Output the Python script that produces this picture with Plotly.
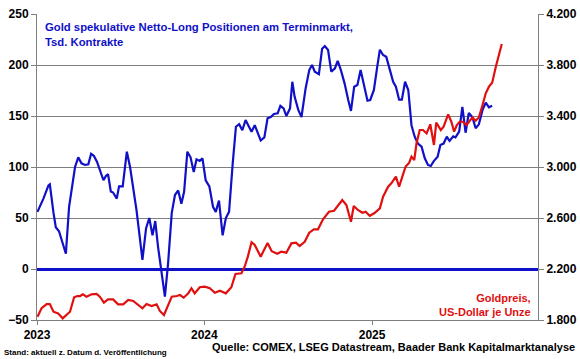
import pandas as pd
import plotly.graph_objects as go

# Days since 2023-01-01 and values
blue_days = [1, 14, 25, 28, 36, 41, 48, 56, 63, 70, 78, 83, 90, 97, 105, 112, 118, 124, 131, 137,
             145, 150, 155, 161, 166, 174, 179, 187, 196, 203, 210, 217, 225, 230, 238, 245, 252, 258,
             264, 272, 279, 286, 294, 301, 308, 315, 321, 328, 335, 342, 348, 355, 361, 368, 376, 384,
             390, 397, 405, 412, 419, 427, 434, 441, 448, 455, 461, 468, 475, 482, 488, 496, 503, 510,
             517, 525, 531, 538, 544, 552, 557, 562, 570, 577, 586, 594, 600, 606, 615, 622, 628, 635,
             642, 650, 656, 663, 671, 679, 685, 692, 699, 706, 714, 721, 727, 735, 742, 748, 755, 762,
             770, 777, 783, 790, 796, 803, 810, 817, 824, 831, 839, 846, 853, 859, 866, 874, 880, 887,
             894, 900, 908, 913, 921, 928, 935, 942, 950, 957, 964, 972, 979, 986, 993]
blue_vals = [56, 69, 82, 83, 55, 41, 37, 25, 15, 61, 84, 100, 109.5, 103.6, 102, 102.6, 113, 111, 105, 97,
             87, 91, 93, 76, 75, 69, 81, 81, 115, 100, 81, 58, 28, 9, 40, 50, 33, 47,
             22, -4, -27, 5.6, 55, 72.5, 77, 64, 76, 115, 109.5, 95, 107.5, 106, 108.5, 87, 81, 61,
             56, 67, 33, 50, 56, 103.6, 139.5, 142, 136, 146, 141, 134.6, 141, 133, 126, 129, 147.7, 149,
             152, 152.6, 160, 157.5, 150, 157.5, 183.6, 169, 156, 149, 177, 195, 200, 193.5, 191, 216, 218.6, 214.7,
             193.5, 196.8, 204, 195, 182, 165.7, 155, 178.7, 180.4, 195, 178.7, 165, 165.7, 175.5, 197.5, 215, 209.8, 208,
             195, 183.6, 178.7, 166, 166, 183.6, 175.5, 141, 129.7, 123, 120, 108.5, 102, 101, 106, 110, 121.6, 123,
             129.7, 125.5, 130, 129, 134.6, 159, 133.6, 153, 148.7, 138, 141.8, 156, 163, 158.5, 160]

red_days = [1, 10, 21, 28, 36, 46, 56, 65, 72, 81, 88, 94, 100, 108, 119, 130, 137, 146, 155, 166,
            177, 188, 199, 210, 220, 230, 239, 250, 261, 268, 277, 286, 294, 305, 312, 320, 330, 337, 344,
            355, 366, 377, 388, 399, 412, 424, 433, 446, 453, 460, 468, 475, 488, 503, 512, 524, 533, 544,
            555, 565, 573, 584, 594, 604, 613, 624, 637, 648, 657, 666, 675, 685, 691, 700, 710, 717, 726,
            737, 748, 755, 766, 773, 783, 790, 797, 804, 812, 817, 823, 828, 835, 842, 850, 858, 866, 871,
            881, 887, 897, 904, 910, 916, 922, 929, 937, 944, 950, 957, 964, 972, 979, 986, 993, 1001, 1008, 1014]
red_vals = [1826, 1892, 1925, 1925, 1865, 1852, 1813, 1839, 1865, 1978, 1988, 1988, 2001, 1983, 2001, 2004, 1983, 1936, 1962, 1962,
            1923, 1923, 1957, 1949, 1918, 1892, 1925, 1910, 1923, 1871, 1839, 1918, 1983, 1988, 1996, 1975, 2009, 2049, 2009,
            2057, 2062, 2049, 2014, 2030, 2009, 2057, 2161, 2166, 2218, 2297, 2410, 2388, 2297, 2403, 2340, 2320, 2336, 2328,
            2401, 2406, 2380, 2414, 2485, 2511, 2511, 2590, 2649, 2657, 2702, 2741, 2702, 2571, 2694, 2663, 2641, 2649, 2616,
            2641, 2676, 2767, 2845, 2872, 2924, 2845, 2924, 3002, 3034, 3081, 3055, 3186, 3290, 3290, 3264, 3335, 3173, 3348,
            3290, 3316, 3413, 3355, 3277, 3329, 3355, 3355, 3329, 3363, 3389, 3363, 3389, 3486, 3578, 3630, 3661, 3787, 3878, 3965]

x_tick_vals = ["2023-01-01", "2024-01-01", "2025-01-01"]
x_tick_text = ["2023", "2024", "2025"]
left_ticks = [-50, 0, 50, 100, 150, 200, 250]
right_ticks = [1800, 2200, 2600, 3000, 3400, 3800, 4200]
right_tick_text = ["1.800", "2.200", "2.600", "3.000", "3.400", "3.800", "4.200"]

start = pd.Timestamp("2023-01-01")
blue_dates = [start + pd.Timedelta(days=d) for d in blue_days]
red_dates = [start + pd.Timedelta(days=d) for d in red_days]

BLUE = "#1010c8"
RED = "#e01010"
GRID = "#7f7f7f"
FONT = "Liberation Sans, Arial, sans-serif"

fig = go.Figure()
fig.add_trace(go.Scatter(x=blue_dates, y=blue_vals, mode="lines",
                         line=dict(color=BLUE, width=2.2), yaxis="y", showlegend=False))
fig.add_trace(go.Scatter(x=red_dates, y=red_vals, mode="lines",
                         line=dict(color=RED, width=2.2), yaxis="y2", showlegend=False))

fig.update_layout(
    width=580, height=359,
    margin=dict(l=37, r=42, t=14, b=39, autoexpand=False),
    plot_bgcolor="white", paper_bgcolor="white",
    font=dict(family=FONT, size=12, color="black"),
    xaxis=dict(type="date", range=["2023-01-01", "2025-12-29"], automargin=False,
               tickvals=x_tick_vals, ticktext=x_tick_text,
               ticks="outside", ticklen=4, tickcolor=GRID,
               showline=True, linecolor=GRID, linewidth=1, mirror=False,
               showgrid=False, zeroline=False,
               tickfont=dict(family=FONT, size=12, weight="bold", color="black")),
    yaxis=dict(range=[-50, 250], tickvals=left_ticks, automargin=False,
               ticks="outside", ticklen=5, tickcolor=GRID,
               showline=True, linecolor=GRID, linewidth=1,
               showgrid=True, gridcolor=GRID, gridwidth=1,
               zeroline=True, zerolinecolor=BLUE, zerolinewidth=3,
               tickfont=dict(family=FONT, size=12, weight="bold", color="black")),
    yaxis2=dict(range=[1800, 4200], tickvals=right_ticks, ticktext=right_tick_text,
                overlaying="y", side="right", automargin=False,
                ticks="outside", ticklen=5, tickcolor=GRID,
                showline=True, linecolor=GRID, linewidth=1,
                showgrid=False, zeroline=False,
                tickfont=dict(family=FONT, size=12, weight="bold", color="black")),
)

fig.add_annotation(xref="paper", yref="paper", x=0.012, y=0.985, xanchor="left", yanchor="top",
                   text="Gold spekulative Netto-Long Positionen am Terminmarkt,<br>Tsd. Kontrakte",
                   showarrow=False, align="left",
                   font=dict(family=FONT, size=11.3, weight="bold", color=BLUE))
fig.add_annotation(xref="paper", yref="paper", x=0.99, y=0.0, xanchor="right", yanchor="bottom",
                   text="Goldpreis,<br>US-Dollar je Unze",
                   showarrow=False, align="right",
                   font=dict(family=FONT, size=11, weight="bold", color=RED))
fig.add_annotation(xref="paper", yref="paper", x=-0.07, y=-0.128, xanchor="left", yanchor="bottom",
                   text="Stand: aktuell z. Datum d. Veröffentlichung",
                   showarrow=False, font=dict(family=FONT, size=8, weight="bold", color="black"))
fig.add_annotation(xref="paper", yref="paper", x=1.078, y=-0.115, xanchor="right", yanchor="bottom",
                   text="Quelle: COMEX, LSEG Datastream, Baader Bank Kapitalmarktanalyse",
                   showarrow=False, font=dict(family=FONT, size=11, weight="bold", color="black"))

fig.write_html("out.html", config={"displayModeBar": False},
               post_script="document.body.style.margin='0';")
